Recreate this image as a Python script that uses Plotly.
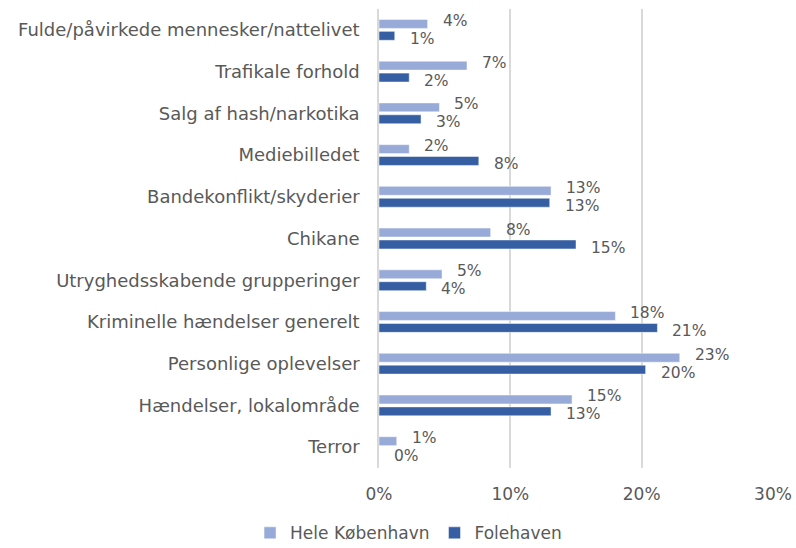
import plotly.graph_objects as go

categories = [
    "Fulde/påvirkede mennesker/nattelivet",
    "Trafikale forhold",
    "Salg af hash/narkotika",
    "Mediebilledet",
    "Bandekonflikt/skyderier",
    "Chikane",
    "Utryghedsskabende grupperinger",
    "Kriminelle hændelser generelt",
    "Personlige oplevelser",
    "Hændelser, lokalområde",
    "Terror",
]
hele_kbh = [0.037, 0.067, 0.046, 0.023, 0.131, 0.085, 0.048, 0.180, 0.229, 0.147, 0.0135]
folehaven = [0.012, 0.023, 0.032, 0.076, 0.130, 0.150, 0.036, 0.212, 0.203, 0.131, 0.0]
series_names = ["Hele København", "Folehaven"]
x_ticks = [0, 0.1, 0.2, 0.3]

LIGHT = "#98AAD8"
DARK = "#355EA3"
TEXT = "#595959"
FONT = "DejaVu Sans"

fig = go.Figure()
for name, vals, col in [(series_names[0], hele_kbh, LIGHT), (series_names[1], folehaven, DARK)]:
    fig.add_trace(go.Bar(
        y=categories, x=vals, name=name, orientation="h",
        marker=dict(color=col, line=dict(color="rgba(255,255,255,0.6)", width=0.8)),
    ))

# value labels to the right of each bar end
annotations = []
for vals, shift in [(hele_kbh, 9), (folehaven, -9)]:
    for cat, v in zip(categories, vals):
        annotations.append(dict(
            x=v, y=cat, xref="x", yref="y", text=f"{v:.0%}",
            showarrow=False, xanchor="left", yanchor="middle",
            xshift=13, yshift=shift,
            font=dict(family=FONT, size=15.5, color=TEXT),
        ))

fig.update_layout(
    width=796, height=548,
    margin=dict(l=379, r=23, t=9, b=80, autoexpand=False),
    paper_bgcolor="white", plot_bgcolor="white",
    barmode="group", bargap=0.43, bargroupgap=0.25,
    font=dict(family=FONT, size=17, color=TEXT),
    annotations=annotations,
    legend=dict(
        orientation="h", x=0.075, xanchor="center",
        y=-0.103, yanchor="top",
        font=dict(family=FONT, size=17, color=TEXT), traceorder="normal",
    ),
    xaxis=dict(
        range=[0, 0.3], tickvals=x_ticks, tickformat=".0%",
        showgrid=True, gridcolor="#D9D9D9", gridwidth=1.5,
        zeroline=False, showline=False, ticks="",
        ticklabelstandoff=14, fixedrange=True,
    ),
    yaxis=dict(
        autorange="reversed", showgrid=False, zeroline=False,
        showline=True, linecolor="#D9D9D9", linewidth=1.5,
        ticks="", ticklabelstandoff=14, tickfont=dict(size=18),
    ),
)

fig.write_html("out.html")
